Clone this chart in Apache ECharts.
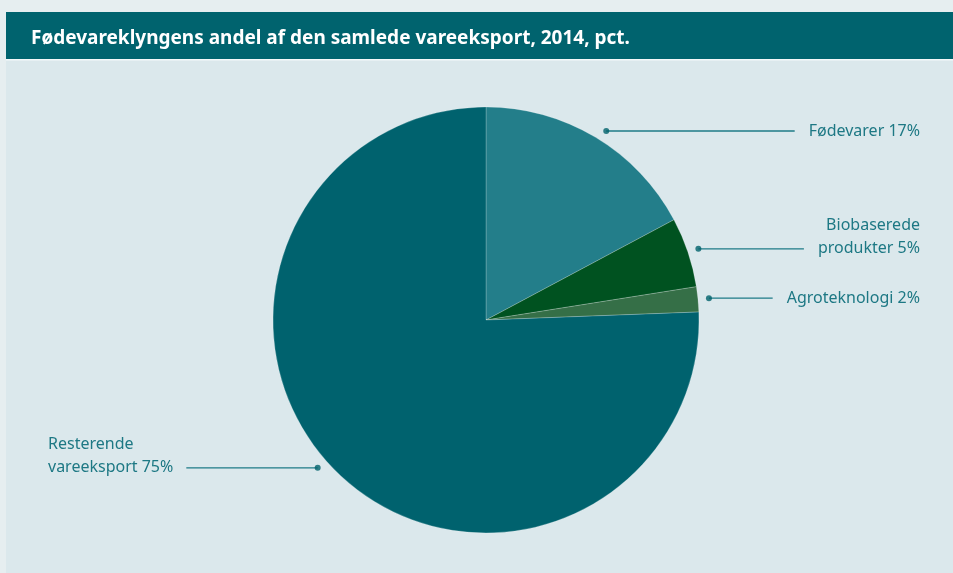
<!DOCTYPE html>
<html>
<head>
<meta charset="utf-8">
<script src="https://cdn.jsdelivr.net/npm/echarts@6/dist/echarts.min.js"></script>
<style>
  html, body { margin: 0; padding: 0; background: #e6eef0; }
  #root { width: 953px; height: 573px; }
</style>
</head>
<body>
<div id="root"></div>
<script>
// data
var categories = ['Fødevarer', 'Biobaserede\nprodukter', 'Agroteknologi', 'Resterende\nvareeksport']
var shares = [17.2, 5.3, 1.9, 75.6]
var shownPct = [17, 5, 2, 75]
var sliceColors = ['#237e8a', '#005220', '#356f47', '#00626e']

var CX = 486, CY = 320, R = 213, DOT_R = 224
var LINE_H = 23
// the label dots do not sit exactly on the slice middle (degrees, clockwise)
var anchorShift = [1.5, 0, 0, 4.8]

var total = shares.reduce((a, b) => a + b, 0)
var anchors = []
var acc = 0
shares.forEach((v, i) => { anchors.push(acc + v / 2 + anchorShift[i] / 360 * total); acc += v })

var chart = echarts.init(document.getElementById('root'))

var labelLayout = params => {
  var p0 = params.labelLinePoints && params.labelLinePoints[0]
  if (!p0) return {}
  var ang = Math.atan2(p0[0] - CX, -(p0[1] - CY)) + anchorShift[params.dataIndex] * Math.PI / 180
  var dot = [CX + Math.sin(ang) * DOT_R, CY - Math.cos(ang) * DOT_R]
  var lines = params.text.split('\n').length
  var w = params.labelRect.width
  var y = dot[1] - (lines - 1) * LINE_H / 2
  if (dot[0] > CX) {
    var endX = 920 - w - 14
    return { x: 920, y: y, align: 'right', verticalAlign: 'middle',
      labelLinePoints: [dot, [(dot[0] + endX) / 2, dot[1]], [endX, dot[1]]] }
  }
  var startX = 48 + w + 13
  return { x: 48, y: y, align: 'left', verticalAlign: 'middle',
    labelLinePoints: [dot, [(dot[0] + startX) / 2, dot[1]], [startX, dot[1]]] }
}

var option = {
  animation: false,
  graphic: [
    { type: 'rect', shape: { x: 6, y: 12, width: 947, height: 561 }, style: { fill: '#dbe8ec' }, z: -10 },
    { type: 'rect', shape: { x: 6, y: 12, width: 947, height: 47 }, style: { fill: '#00636e' }, z: -9 },
    { type: 'rect', shape: { x: 6, y: 59, width: 947, height: 1.5 }, style: { fill: '#f4f8f9' }, z: -9 }
  ],
  title: {
    text: 'Fødevareklyngens andel af den samlede vareeksport, 2014, pct.',
    left: 26, top: 24,
    textStyle: { color: '#ffffff', fontSize: 19, fontWeight: 'bold', fontFamily: 'Noto Sans' }
  },
  polar: { center: [CX, CY], radius: DOT_R },
  angleAxis: { type: 'value', min: 0, max: total, startAngle: 90, clockwise: true, show: false },
  radiusAxis: { type: 'value', min: 0, max: 1, show: false },
  series: [
    {
      type: 'pie',
      center: [CX, CY],
      radius: R,
      startAngle: 90,
      clockwise: true,
      avoidLabelOverlap: false,
      itemStyle: { borderColor: 'rgba(255,255,255,0.35)', borderWidth: 0.6 },
      label: {
        show: true,
        position: 'outside',
        color: '#1d7884',
        fontSize: 16,
        lineHeight: LINE_H,
        fontFamily: 'Noto Sans',
        formatter: p => p.name + ' ' + shownPct[p.dataIndex] + '%'
      },
      labelLine: { show: true, length: 10, length2: 20, lineStyle: { color: '#1e7b87', width: 1.3 } },
      labelLayout: labelLayout,
      emphasis: { disabled: true },
      data: categories.map((name, i) => ({ name: name, value: shares[i], itemStyle: { color: sliceColors[i] } }))
    },
    {
      type: 'scatter',
      coordinateSystem: 'polar',
      symbolSize: 6,
      itemStyle: { color: '#00616c' },
      silent: true,
      z: 5,
      data: anchors.map(m => [1, m])
    }
  ]
}
chart.setOption(option)
</script>
</body>
</html>
